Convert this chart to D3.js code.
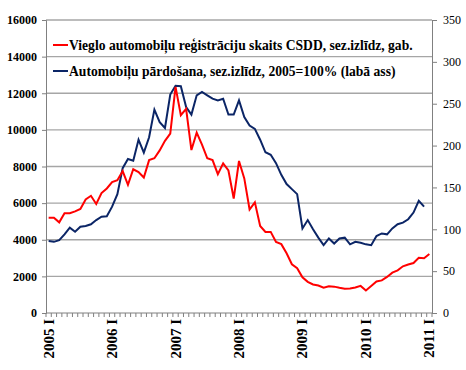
<!DOCTYPE html>
<html>
<head>
<meta charset="utf-8">
<script src="https://cdn.jsdelivr.net/npm/d3@7"></script>
<style>
  body { margin: 0; background: #fff; }
</style>
</head>
<body>
<div id="chart"></div>
<script>
// categories: months 2005 I ... 2011 I
var years = ["2005", "2006", "2007", "2008", "2009", "2010", "2011"];
var romanMonths = ["I", "II", "III", "IV", "V", "VI", "VII", "VIII", "IX", "X", "XI", "XII"];

var categories = [];
years.forEach(function(yr) {
  romanMonths.forEach(function(m) {
    if (yr === "2011" && m !== "I") return;
    categories.push(yr + " " + m);
  });
});

// registrations of passenger cars, CSDD, seasonally adjusted (left axis)
var registrations = [
  5200, 5200, 4950, 5450, 5450, 5550, 5680, 6200, 6400, 5950, 6550, 6800,
  7150, 7250, 7750, 7000, 7850, 7700, 7400, 8350, 8450, 8880, 9400, 9800,
  12350, 10800, 11150, 8900, 9850, 9200, 8450, 8350, 7580, 8170, 7780, 6250,
  8300, 7350, 5650, 6040, 4750, 4430, 4430, 3880, 3760, 3260, 2660, 2450,
  1950, 1700, 1560, 1500, 1380, 1460, 1440, 1380, 1330, 1340, 1390, 1480,
  1230, 1470, 1720, 1780, 1970, 2200, 2330, 2550, 2650, 2730, 3020, 2990,
  3220
];

// car sales, seasonally adjusted, 2005=100 (right axis)
var sales = [
  86, 85, 87, 94, 102, 97, 103, 104, 106, 111, 115, 115.5,
  127, 142, 173, 184, 182, 207, 191.5, 210, 243, 228, 221, 261,
  271.5, 271, 246, 237, 260, 264, 260, 256, 254, 256, 237, 237,
  254, 234, 224, 220, 207, 192, 189, 179, 165, 154, 148, 142,
  101, 111, 100, 90, 81, 89, 83, 89, 90, 82, 85, 84,
  82, 81, 92, 95, 94, 101, 106, 108, 112, 120, 134, 127
];

var leftTicks = [0, 2000, 4000, 6000, 8000, 10000, 12000, 14000, 16000];
var rightTicks = [0, 50, 100, 150, 200, 250, 300, 350];

var seriesNames = [
  "Vieglo automobiļu reģistrāciju skaits CSDD, sez.izlīdz, gab.",
  "Automobiļu pārdošana, sez.izlīdz, 2005=100% (labā ass)"
];
var seriesColors = ["#ff0000", "#0b2566"];

var serif = "'Liberation Serif', 'Times New Roman', 'DejaVu Serif', serif";

var width = 466, height = 370;
var margin = {top: 20, right: 34, bottom: 57, left: 46};

var svg = d3.select("#chart").append("svg")
  .attr("width", width)
  .attr("height", height);

var x = d3.scaleBand()
  .domain(categories)
  .range([margin.left, width - margin.right])
  .padding(0);

var yL = d3.scaleLinear().domain([0, 16000]).range([height - margin.bottom, margin.top]);
var yR = d3.scaleLinear().domain([0, 350]).range([height - margin.bottom, margin.top]);

function cx(i) { return x(categories[i]) + x.bandwidth() / 2; }

// gridlines
svg.append("g")
  .selectAll("line")
  .data(leftTicks.slice(1))
  .enter().append("line")
    .attr("x1", margin.left)
    .attr("x2", width - margin.right)
    .attr("y1", function(d) { return yL(d); })
    .attr("y2", function(d) { return yL(d); })
    .attr("stroke", "#a6a6a6")
    .attr("stroke-width", 1.3);

// left axis
var leftAxis = svg.append("g")
  .attr("transform", "translate(" + margin.left + ",0)")
  .call(d3.axisLeft(yL).tickValues(leftTicks).tickSize(4).tickPadding(5).tickFormat(d3.format("d")));
leftAxis.select(".domain").attr("stroke", "#808080");
leftAxis.selectAll(".tick line").attr("stroke", "#808080");
leftAxis.selectAll("text")
  .style("font-family", serif)
  .style("font-size", "12px")
  .style("font-weight", "bold")
  .attr("fill", "#000");

// right axis
var rightAxis = svg.append("g")
  .attr("transform", "translate(" + (width - margin.right) + ",0)")
  .call(d3.axisRight(yR).tickValues(rightTicks).tickSize(5).tickPadding(6));
rightAxis.select(".domain").attr("stroke", "#808080");
rightAxis.selectAll(".tick line").attr("stroke", "#808080");
rightAxis.selectAll("text")
  .style("font-family", serif)
  .style("font-size", "12px")
  .attr("fill", "#000");

// bottom axis: tick marks between months
var bottom = height - margin.bottom;
var xg = svg.append("g");
xg.append("line")
  .attr("x1", margin.left).attr("x2", width - margin.right)
  .attr("y1", bottom).attr("y2", bottom)
  .attr("stroke", "#808080");
var tickPos = categories.map(function(c) { return x(c); }).concat([x.range()[1]]);
xg.selectAll(".mtick")
  .data(tickPos)
  .enter().append("line")
    .attr("class", "mtick")
    .attr("x1", function(d) { return d; })
    .attr("x2", function(d) { return d; })
    .attr("y1", bottom)
    .attr("y2", bottom + 4)
    .attr("stroke", "#808080");

xg.selectAll(".ylab")
  .data(categories.filter(function(c) { return /\sI$/.test(c); }))
  .enter().append("text")
    .attr("class", "ylab")
    .attr("transform", function(d) {
      return "translate(" + (x(d) + x.bandwidth() / 2 + 5) + "," + (bottom + 6) + ") rotate(-90)";
    })
    .attr("text-anchor", "end")
    .style("font-family", serif)
    .style("font-size", "15px")
    .style("font-weight", "bold")
    .text(function(d) { return d; });

// lines
var lineL = d3.line()
  .x(function(d, i) { return cx(i); })
  .y(function(d) { return yL(d); });
var lineR = d3.line()
  .x(function(d, i) { return cx(i); })
  .y(function(d) { return yR(d); });

svg.append("path")
  .datum(sales)
  .attr("d", lineR)
  .attr("fill", "none")
  .attr("stroke", seriesColors[1])
  .attr("stroke-width", 2);

svg.append("path")
  .datum(registrations)
  .attr("d", lineL)
  .attr("fill", "none")
  .attr("stroke", seriesColors[0])
  .attr("stroke-width", 2);

// legend
var legend = svg.append("g");
seriesNames.forEach(function(name, i) {
  var ly = 45 + i * 26;
  legend.append("line")
    .attr("x1", 53).attr("x2", 68)
    .attr("y1", ly).attr("y2", ly)
    .attr("stroke", seriesColors[i])
    .attr("stroke-width", 2);
  legend.append("text")
    .attr("x", 69)
    .attr("y", ly + 4.5)
    .style("font-family", serif)
    .style("font-size", "13.6px")
    .style("font-weight", "bold")
    .text(name);
});
</script>
</body>
</html>
